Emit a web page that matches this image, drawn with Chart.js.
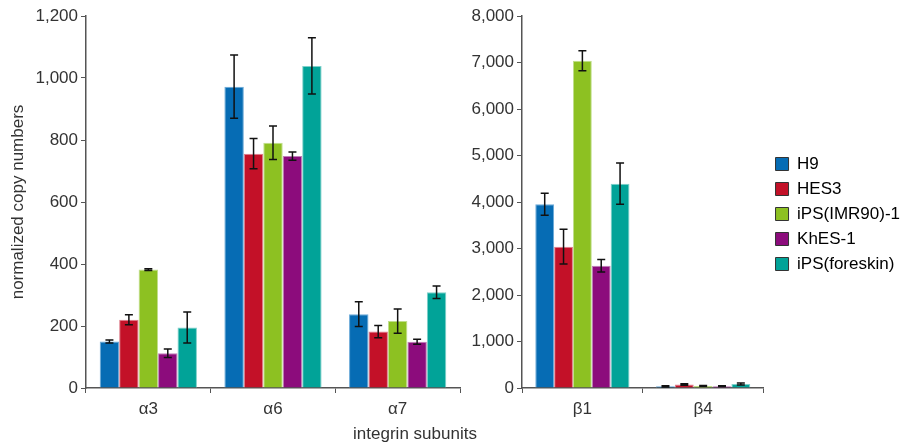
<!DOCTYPE html>
<html>
<head>
<meta charset="utf-8">
<script src="https://cdn.jsdelivr.net/npm/chart.js@4"></script>
<style>
  body { margin: 0; background: #fff; overflow: hidden; }
  #wrap { position: relative; width: 906px; height: 446px; }
  #leftBox { position: absolute; left: 0; top: 0; width: 462px; height: 446px; }
  #rightBox { position: absolute; left: 460px; top: 0; width: 446px; height: 446px; }
  #xTitle {
    position: absolute; left: 300px; width: 230px; top: 424px;
    text-align: center; font: 17px "Liberation Sans", Arial, sans-serif; color: #333;
  }
</style>
</head>
<body>
<div id="wrap">
  <div id="leftBox"><canvas id="leftChart"></canvas></div>
  <div id="rightBox"><canvas id="rightChart"></canvas></div>
  <div id="xTitle">integrin subunits</div>
</div>
<script>
// catégories
const alphaLabels = ['α3', 'α6', 'α7'];
const betaLabels = ['β1', 'β4'];
const cellLines = ['H9', 'HES3', 'iPS(IMR90)-1', 'KhES-1', 'iPS(foreskin)'];

// valeurs (alpha)
const h9Alpha = [150, 972, 238];
const hes3Alpha = [220, 756, 182];
const imr90Alpha = [382, 791, 216];
const khesAlpha = [112, 748, 149];
const foreskinAlpha = [195, 1039, 309];

const h9AlphaErr = [5, 102, 40];
const hes3AlphaErr = [16, 49, 20];
const imr90AlphaErr = [3, 54, 39];
const khesAlphaErr = [14, 13, 8];
const foreskinAlphaErr = [50, 91, 20];

// valeurs beta
const h9Beta = [3950, 35];
const hes3Beta = [3040, 75];
const imr90Beta = [7040, 45];
const khesBeta = [2630, 40];
const foreskinBeta = [4395, 85];

const h9BetaErr = [236, 15];
const hes3BetaErr = [372, 15];
const imr90BetaErr = [215, 10];
const khesBetaErr = [136, 10];
const foreskinBetaErr = [445, 20];

const colors = ['#066cb4', '#c31128', '#8dc122', '#8c0c7c', '#01a398'];
const edgeColors = ['#6aa9d8', '#df7f8d', '#c0de8c', '#c07fb8', '#7fd0ca'];

const fontFam = '"Liberation Sans", Arial, sans-serif';
Chart.defaults.font.family = fontFam;
Chart.defaults.font.size = 17;
Chart.defaults.color = '#333';

// petit plugin pour les barres d'erreur
const errorBars = {
  id: 'errorBars',
  afterDatasetsDraw(chart) {
    const ctx = chart.ctx;
    const yScale = chart.scales.y;
    ctx.save();
    ctx.strokeStyle = '#111';
    ctx.lineWidth = 1.5;
    chart.data.datasets.forEach((ds, i) => {
      const meta = chart.getDatasetMeta(i);
      meta.data.forEach((bar, j) => {
        const v = ds.data[j];
        const e = ds.errors[j];
        const yTop = yScale.getPixelForValue(v + e);
        const yBot = yScale.getPixelForValue(v - e);
        ctx.beginPath();
        ctx.moveTo(bar.x, yTop);
        ctx.lineTo(bar.x, yBot);
        ctx.moveTo(bar.x - 4, yTop);
        ctx.lineTo(bar.x + 4, yTop);
        ctx.moveTo(bar.x - 4, yBot);
        ctx.lineTo(bar.x + 4, yBot);
        ctx.stroke();
      });
    });
    ctx.restore();
  }
};

// décale un peu la légende (haut / droite) pour coller à l'image
const nudgeLegend = {
  id: 'nudgeLegend',
  afterLayout(chart) {
    const lg = chart.legend;
    if (!lg) return;
    lg.top -= 17;
    lg.bottom -= 17;
    lg.left += 4;
    lg.right += 4;
  }
};

function makeDatasets(values, errs) {
  return cellLines.map((name, i) => ({
    label: name,
    data: values[i],
    errors: errs[i],
    backgroundColor: colors[i],
    borderColor: edgeColors[i],
    borderWidth: 1,
    categoryPercentage: 0.78,
    barPercentage: 1.0
  }));
}

function axisOptions(maxY, stepY, yWidth, showTitle) {
  return {
    x: {
      grid: { display: true, drawOnChartArea: false, offset: true, tickLength: 5, color: '#555' },
      border: { color: '#555', width: 1.5 },
      ticks: { padding: 6, color: '#333' },
      afterFit(scale) { scale.height = 58; }
    },
    y: {
      min: 0,
      max: maxY,
      ticks: { stepSize: stepY, padding: 3, color: '#333' },
      grid: { display: true, drawOnChartArea: false, tickLength: 5, color: '#555' },
      border: { color: '#555', width: 1.5 },
      title: { display: showTitle, text: 'normalized copy numbers', color: '#333', padding: { top: 8, bottom: 0 } },
      afterFit(scale) { scale.width = yWidth; }
    }
  };
}

const leftChart = new Chart(document.getElementById('leftChart'), {
  type: 'bar',
  data: {
    labels: alphaLabels,
    datasets: makeDatasets(
      [h9Alpha, hes3Alpha, imr90Alpha, khesAlpha, foreskinAlpha],
      [h9AlphaErr, hes3AlphaErr, imr90AlphaErr, khesAlphaErr, foreskinAlphaErr]
    )
  },
  options: {
    responsive: true,
    maintainAspectRatio: false,
    animation: false,
    layout: { padding: { top: 16, right: 2, left: 0, bottom: 0 } },
    scales: axisOptions(1200, 200, 86, true),
    plugins: { legend: { display: false }, tooltip: { enabled: false } }
  },
  plugins: [errorBars]
});

const rightChart = new Chart(document.getElementById('rightChart'), {
  type: 'bar',
  data: {
    labels: betaLabels,
    datasets: makeDatasets(
      [h9Beta, hes3Beta, imr90Beta, khesBeta, foreskinBeta],
      [h9BetaErr, hes3BetaErr, imr90BetaErr, khesBetaErr, foreskinBetaErr]
    )
  },
  options: {
    responsive: true,
    maintainAspectRatio: false,
    animation: false,
    layout: { padding: { top: 16, right: 0, left: 0, bottom: 0 } },
    scales: axisOptions(8000, 1000, 62, false),
    plugins: {
      legend: {
        position: 'right',
        align: 'center',
        maxWidth: 200,
        labels: {
          boxWidth: 13,
          boxHeight: 13,
          padding: 8,
          color: '#333',
          generateLabels(chart) {
            return chart.data.datasets.map((ds, i) => ({
              text: ds.label,
              fillStyle: colors[i],
              strokeStyle: '#333',
              lineWidth: 1,
              datasetIndex: i
            }));
          }
        }
      },
      tooltip: { enabled: false }
    }
  },
  plugins: [errorBars, nudgeLegend]
});
</script>
</body>
</html>
